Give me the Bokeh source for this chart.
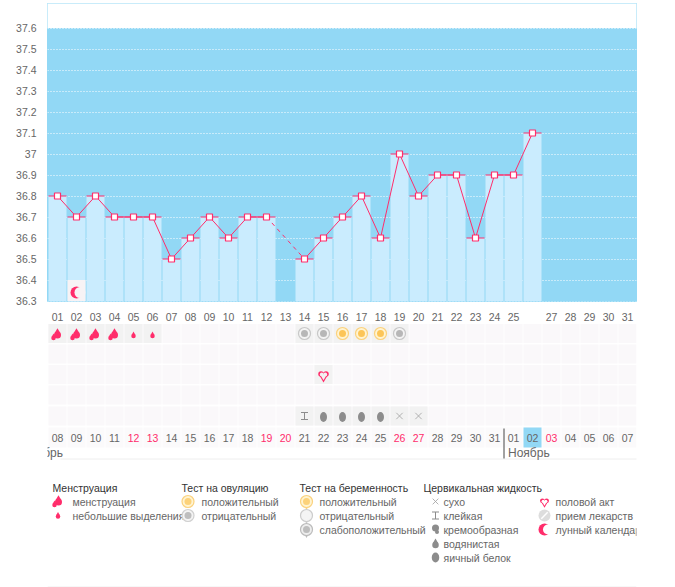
from bokeh.embed import file_html
from bokeh.layouts import column
from bokeh.models import BoxAnnotation, FixedTicker, Label, AllLabels, Range1d
from bokeh.plotting import figure
from bokeh.resources import INLINE
import numpy as np

# chart data
DAYS = list(range(1, 32))
DAY_LABELS = ["%02d" % d for d in DAYS]
TEMP_DAYS = list(range(1, 27))
TEMPS = [36.8, 36.7, 36.8, 36.7, 36.7, 36.7, 36.5, 36.6, 36.7, 36.6, 36.7, 36.7, None,
         36.5, 36.6, 36.7, 36.8, 36.6, 37.0, 36.8, 36.9, 36.9, 36.6, 36.9, 36.9, 37.1]
Y_TICKS = [36.3, 36.4, 36.5, 36.6, 36.7, 36.8, 36.9, 37.0, 37.1, 37.2, 37.3, 37.4, 37.5, 37.6]
Y_LABELS = ["36.3", "36.4", "36.5", "36.6", "36.7", "36.8", "36.9", "37", "37.1", "37.2",
            "37.3", "37.4", "37.5", "37.6"]
DATE_LABELS = ["08", "09", "10", "11", "12", "13", "14", "15", "16", "17", "18", "19", "20", "21", "22", "23",
               "24", "25", "26", "27", "28", "29", "30", "31", "01", "02", "03", "04", "05", "06", "07"]
WEEKEND_COLS = [5, 6, 12, 13, 19, 20, 27]
TODAY = 26

MOON_DAYS = [2]
HEAVY_DAYS = [1, 2, 3, 4]
LIGHT_DAYS = [5, 6]
OV_NEG_DAYS = [14, 15, 19]
OV_POS_DAYS = [16, 17, 18]
SEX_DAYS = [15]
STICKY_DAYS = [14]
EGG_DAYS = [15, 16, 17, 18]
DRY_DAYS = [19, 20]

LEG_MENS = ["менструация", "небольшие выделения"]
LEG_OV = ["положительный", "отрицательный"]
LEG_PREG = ["положительный", "отрицательный", "слабоположительный"]
LEG_FLUID = ["сухо", "клейкая", "кремообразная", "водянистая", "яичный белок"]
LEG_OTHER = ["половой акт", "прием лекарств", "лунный календарь"]

FONT = "Liberation Sans"
BLUE = "#92d8f5"
BAR = "#caecfe"
PINK = "#ff2d6b"
GREY = "#8c8c8c"
CELL = "#faf8fa"
CELL_ON = "#f2f2f2"
TEXT = "#666666"

PX = 1 / 19  # one pixel in day units
X_RANGE = (0.5 - 0.5 * PX, 31.5 - 0.5 * PX)
ROWS = [333, 353.5, 374, 394.5, 415.5]
DATE_ROW = 437


def drop(fig, xs, ys, w, h, color):
    # round belly with a triangle on top
    ys = np.array(ys, dtype=float)
    fig.scatter(xs, ys + h / 2 - w / 2, marker="circle", size=w, color=color, line_width=0)
    fig.scatter(xs, ys - h / 2 + h * 0.3, marker="triangle", size=w * 0.8, color=color, line_width=0)


def heart(fig, xs, ys, s, color, ux=1.0):
    xs = np.array(xs, dtype=float)
    ys = np.array(ys, dtype=float)
    fig.scatter(xs - s * 0.25 * ux, ys - s * 0.15, marker="circle", size=s * 0.55, color=color, line_width=0)
    fig.scatter(xs + s * 0.25 * ux, ys - s * 0.15, marker="circle", size=s * 0.55, color=color, line_width=0)
    fig.scatter(xs, ys + s * 0.14, marker="inverted_triangle", size=s * 0.95, color=color, line_width=0)


def sun(fig, xs, ys, ring, fill, core):
    fig.scatter(xs, ys, marker="circle", size=12, fill_color=fill, line_color=ring, line_width=1.2)
    fig.scatter(xs, ys, marker="circle", size=7, color=core, line_width=0, alpha=0.8)


def sticky(fig, xs, ys):
    ys = np.array(ys, dtype=float)
    fig.scatter(xs, ys - 3.5, marker="dash", size=7, line_color=GREY, line_width=1)
    fig.scatter(xs, ys + 3.5, marker="dash", size=7, line_color=GREY, line_width=1)
    fig.scatter(xs, ys, marker="dash", size=7, angle=np.pi / 2, line_color=GREY, line_width=1)


# temperature chart
p = figure(width=675, height=323, x_range=Range1d(*X_RANGE), y_range=Range1d(36.3 - 0.5 / 210, 36.3 + 297.5 / 210),
           output_backend="svg", toolbar_location=None, min_border_left=47, min_border_right=39,
           min_border_top=3, min_border_bottom=22, background_fill_color=BLUE, outline_line_color=BLUE)
p.xgrid.visible = False
p.ygrid.ticker = FixedTicker(ticks=Y_TICKS)
p.ygrid.grid_line_color = "white"
p.ygrid.grid_line_dash = [1, 2]
p.yaxis.ticker = FixedTicker(ticks=Y_TICKS)
p.yaxis.major_label_overrides = dict(zip(Y_TICKS, Y_LABELS))
p.xaxis.ticker = FixedTicker(ticks=DAYS)
p.xaxis.major_label_overrides = {d: ("" if d == TODAY else s) for d, s in zip(DAYS, DAY_LABELS)}
p.xaxis.major_label_policy = AllLabels()
p.yaxis.major_label_policy = AllLabels()
for ax in [p.xaxis[0], p.yaxis[0]]:
    ax.axis_line_color = None
    ax.major_tick_line_color = None
    ax.minor_tick_line_color = None
    ax.major_label_text_font = FONT
    ax.major_label_text_font_size = "10.5px"
    ax.major_label_text_color = TEXT
    ax.major_label_standoff = 5

p.quad(left=[0], right=[32], bottom=[37.6], top=[38], color="white", line_width=0)

temps = np.array([np.nan if t is None else t for t in TEMPS])
has = ~np.isnan(temps)
days = np.array(TEMP_DAYS)
p.vbar(days[has], width=18 * PX, top=temps[has], bottom=36.0, color=BAR, line_width=0)
p.vbar(MOON_DAYS, width=18 * PX, top=36.4, bottom=36.0, color="#f7f3f5", line_width=0)

# moon, crescent open to the right
moon_y = 36.3 + 8.5 / 210
p.scatter(MOON_DAYS, [moon_y], marker="circle", size=12, color=PINK, line_width=0)
p.scatter(np.array(MOON_DAYS) + 3.5 * PX, [moon_y], marker="circle", size=11, color="#f7f3f5", line_width=0)

p.scatter(days[has], temps[has], marker="dash", size=18, line_color=PINK, line_width=1)
p.line(days, temps, line_color=PINK, line_width=1)
gap = int(np.where(~has)[0][0])
p.line(days[[gap - 1, gap + 1]], temps[[gap - 1, gap + 1]], line_color=PINK, line_width=1, line_dash=[4, 4])
p.scatter(days[has], temps[has], marker="square", size=6, fill_color="white", line_color=PINK, line_width=1.2)

p.add_layout(BoxAnnotation(left=TODAY - 9 * PX, right=TODAY + 9 * PX, top=36.288, bottom=36.193,
                           fill_color=BLUE, fill_alpha=1, line_color=None, level="underlay"))
p.add_layout(Label(x=TODAY, y=36.24, text=DAY_LABELS[TODAY - 1], text_align="center", text_baseline="middle",
                   text_font=FONT, text_font_size="13px", text_color=TEXT))
p.add_layout(Label(x=X_RANGE[0] - 7 * PX, y=37.705, text="°C", text_align="right", text_baseline="middle",
                   text_font=FONT, text_font_size="13px", text_color=TEXT))

# calendar rows under the chart
cal = figure(width=675, height=137, x_range=Range1d(*X_RANGE), y_range=Range1d(460, 323),
             output_backend="svg", toolbar_location=None, min_border_left=47, min_border_right=39,
             min_border_top=0, min_border_bottom=0, x_axis_type=None, y_axis_type=None, outline_line_color=None)
cal.grid.visible = False
for row in ROWS:
    cal.rect(DAYS, [row] * 31, width=18 * PX, height=19, color=CELL, line_width=0)
cal.rect(DAYS, [DATE_ROW] * 31, width=18 * PX, height=20, color="#fbfafb", line_width=0)
for ds, row in [(HEAVY_DAYS + LIGHT_DAYS + OV_NEG_DAYS + OV_POS_DAYS, ROWS[0]), (SEX_DAYS, ROWS[2]),
                (STICKY_DAYS + EGG_DAYS + DRY_DAYS, ROWS[4])]:
    cal.rect(ds, [row] * len(ds), width=18 * PX, height=19, color=CELL_ON, line_width=0)

drop(cal, HEAVY_DAYS, [ROWS[0]] * 4, 7, 10, PINK)
drop(cal, np.array(HEAVY_DAYS) - 4 * PX, [ROWS[0] + 3.5] * 4, 4.5, 6.5, PINK)
drop(cal, LIGHT_DAYS, [ROWS[0] + 1.5] * 2, 4.5, 6.5, PINK)
sun(cal, OV_NEG_DAYS, [ROWS[0]] * 3, "#c8c8c8", "#f4f4f4", "#a8a8a8")
sun(cal, OV_POS_DAYS, [ROWS[0]] * 3, "#fbd27e", "#fff4d2", "#fbb93a")
heart(cal, SEX_DAYS, [ROWS[2] + 1], 10, PINK, PX)
heart(cal, SEX_DAYS, [ROWS[2] + 1], 7, CELL_ON, PX)
sticky(cal, STICKY_DAYS, [ROWS[4]])
cal.ellipse(EGG_DAYS, [ROWS[4] + 1] * 4, width=7, height=10, width_units="screen", height_units="screen",
            color=GREY, line_width=0)
cal.scatter(DRY_DAYS, [ROWS[4]] * 2, marker="x", size=9, line_color="#a0a0a0", line_width=0.8)

cal.rect([TODAY], [DATE_ROW], width=18 * PX, height=20, color=BLUE, line_width=0)
date_colors = [PINK if d in WEEKEND_COLS else TEXT for d in DAYS]
cal.text(DAYS, [DATE_ROW] * 31, text=DATE_LABELS, text_color=date_colors, text_align="center",
         text_baseline="middle", text_font={"value": FONT}, text_font_size="10.5px")
cal.segment([1 + 3 * PX], [458.5], [31.5], [458.5], line_color="#eeeeee", line_width=1)
cal.segment([24.5], [428], [24.5], [458], line_color="#444444", line_width=1)
cal.add_layout(Label(x=1 - 41 * PX, y=452, text="Октябрь", text_font=FONT, text_font_size="12px",
                     text_color=TEXT, text_baseline="middle"))
cal.add_layout(Label(x=24.5 + 4 * PX, y=452, text="Ноябрь", text_font=FONT, text_font_size="12px",
                     text_color=TEXT, text_baseline="middle"))

# legend, in page pixels
leg = figure(width=675, height=127, x_range=Range1d(47, 636), y_range=Range1d(587, 460), output_backend="svg",
             toolbar_location=None, min_border_left=47, min_border_right=39, min_border_top=0, min_border_bottom=0,
             x_axis_type=None, y_axis_type=None, outline_line_color=None)
leg.grid.visible = False


def leg_col(x, title, names, text_x):
    if title:
        leg.text([x], [487], text=[title], text_color="#333333", text_font={"value": FONT},
                 text_font_size="10.5px", text_baseline="middle")
    ys = [501 + 14 * i for i in range(len(names))]
    leg.text([text_x] * len(names), ys, text=names, text_color=TEXT, text_font={"value": FONT},
             text_font_size="10.5px", text_baseline="middle")
    return ys


ys = leg_col(52, "Менструация", LEG_MENS, 72)
drop(leg, [58], [ys[0] - 1], 7, 10, PINK)
drop(leg, [54], [ys[0] + 2.5], 4.5, 6.5, PINK)
drop(leg, [57.5], [ys[1]], 4.5, 6.5, PINK)

ys = leg_col(181, "Тест на овуляцию", LEG_OV, 201)
sun(leg, [187.5], [ys[0]], "#fbd27e", "#fff4d2", "#fbc964")
sun(leg, [187.5], [ys[1]], "#d0d0d0", "#f4f4f4", "#b0b0b0")

ys = leg_col(299, "Тест на беременность", LEG_PREG, 319)
for y, ring, fill, core in zip(ys, ["#fbd27e", "#cccccc", "#bbbbbb"], ["#fff4d2", "#f4f4f4", "#eeeeee"],
                               ["#fbc964", "#f4f4f4", "#b0b0b0"]):
    leg.scatter([306], [y + 5.5], marker="inverted_triangle", size=5, color=ring, line_width=0)
    sun(leg, [306], [y], ring, fill, core)

ys = leg_col(423, "Цервикальная жидкость", LEG_FLUID, 443)
leg.scatter([435], [ys[0]], marker="x", size=8, line_color="#a0a0a0", line_width=0.8)
sticky(leg, [435], [ys[1]])
leg.scatter([435], [ys[2] - 1.5], marker="circle", size=7, color=GREY, line_width=0)
leg.scatter([436.5], [ys[2] + 2.5], marker="circle", size=4, color=GREY, line_width=0)
drop(leg, [435], [ys[3]], 6.5, 9.5, GREY)
leg.ellipse([435], [ys[4]], width=7.5, height=10, width_units="screen", height_units="screen", color=GREY,
            line_width=0)

ys = leg_col(555, "", LEG_OTHER, 555)
heart(leg, [544], [ys[0] + 0.5], 8.5, PINK)
heart(leg, [544], [ys[0] + 0.5], 5.5, "white")
leg.scatter([544], [ys[1]], marker="circle", size=12, color="#dddddd", line_width=0)
leg.scatter([544], [ys[1]], marker="dash", size=9, angle=np.pi / 4, line_color="white", line_width=1.5)
leg.scatter([544], [ys[2]], marker="circle", size=12, color=PINK, line_width=0)
leg.scatter([547.5], [ys[2]], marker="circle", size=10, color="white", line_width=0)

leg.segment([47], [586.5], [636], [586.5], line_color="#eeeeee", line_width=1)

page = column(p, cal, leg, spacing=0)
open("out.html", "w").write(file_html(page, INLINE))
